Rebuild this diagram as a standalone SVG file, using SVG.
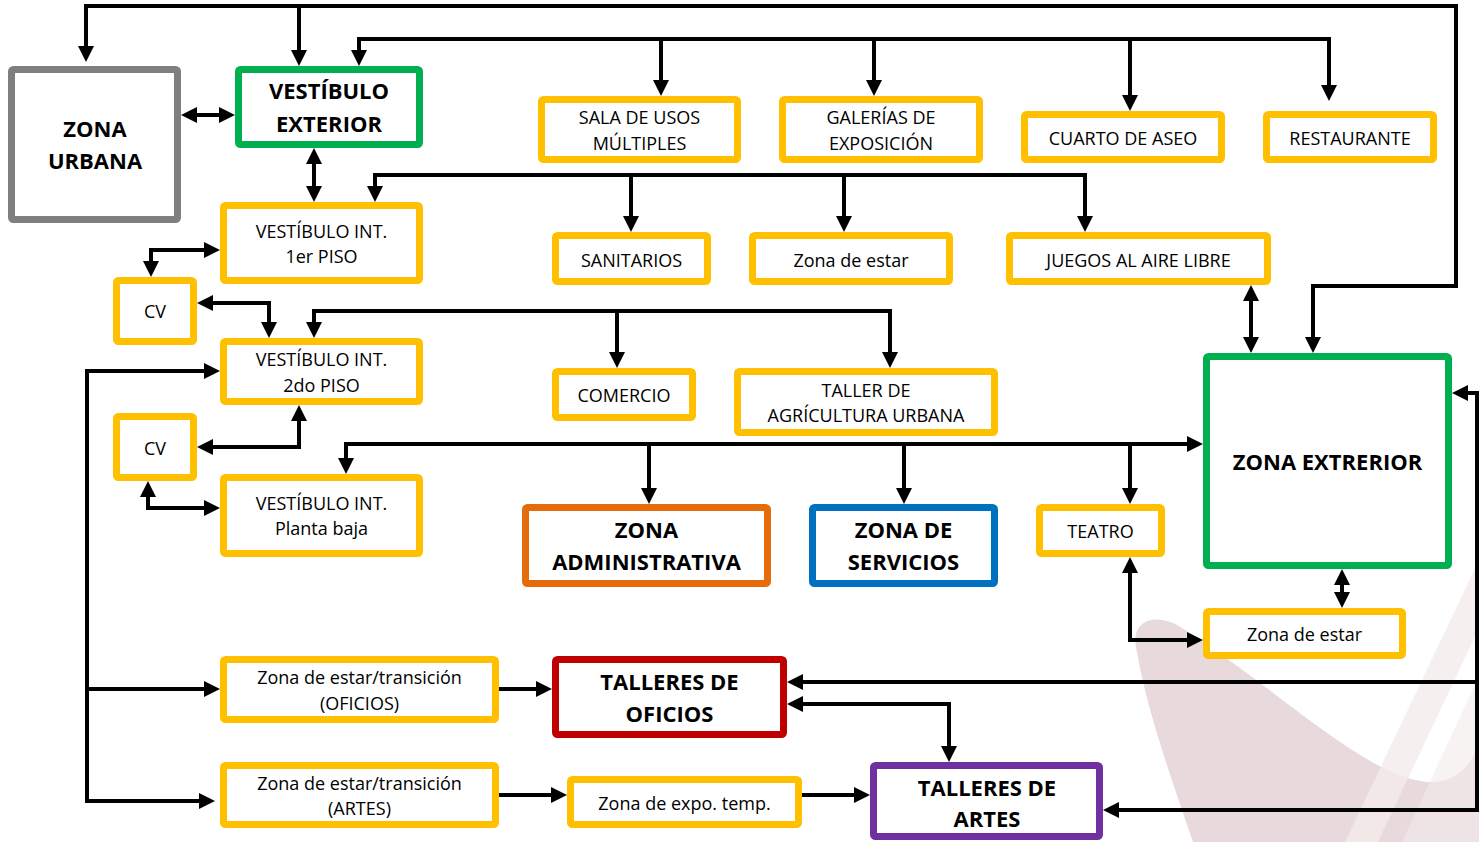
<svg xmlns="http://www.w3.org/2000/svg" width="1479" height="842" viewBox="0 0 1479 842">
  <defs>
    <marker id="arrow" viewBox="0 0 16 16" refX="12" refY="8" markerWidth="16" markerHeight="16" markerUnits="userSpaceOnUse" orient="auto-start-reverse">
      <path d="M0,0 L16,8 L0,16 z" fill="#000"/>
    </marker>
    <style>
      .box { fill: #fff; stroke-width: 7; }
      .y { stroke: #FFC000; }
      .g { stroke: #00B050; }
      .gr { stroke: #7F7F7F; }
      .o { stroke: #E46C0A; }
      .b { stroke: #0070C0; }
      .r { stroke: #C00000; }
      .p { stroke: #7030A0; }
      .t { font-family: "Open Sans", "Noto Sans", "Liberation Sans", sans-serif; font-size: 18px; fill: #000; text-anchor: middle; }
      .tb { font-family: "Open Sans", "Noto Sans", "Liberation Sans", sans-serif; font-size: 22px; font-weight: 700; fill: #000; text-anchor: middle; }
      .c path { fill: none; stroke: #000; stroke-width: 4; stroke-linejoin: miter; }
      .both { marker-start: url(#arrow); marker-end: url(#arrow); }
      .end { marker-end: url(#arrow); }
    </style>
  </defs>

  <rect width="1479" height="842" fill="#fff"/>

  <!-- background ornament, lower right -->
  <g id="ornament">
    <path d="M1137,652 C1128,618 1158,612 1182,628 C1280,690 1370,782 1432,782 C1462,782 1479,755 1479,735 L1479,842 L1193,842 C1168,770 1146,705 1137,652 Z" fill="#E8D9DC"/>
    <path d="M1345,842 L1479,560 L1479,628 L1378,842 Z" fill="#F4EBEB" opacity="0.8"/>
    <path d="M1402,842 L1479,676 L1479,842 Z" fill="#F4EBEB" opacity="0.6"/>
  </g>

  <!-- connectors -->
  <g id="connectors" class="c">
    <path class="both" d="M86,58 L86,6 L1456,6 L1456,286 L1313,286 L1313,349"/>
    <path class="end" d="M299,6 L299,62"/>
    <path class="both" d="M359,62 L359,39 L1329,39 L1329,97"/>
    <path class="end" d="M661,39 L661,92"/>
    <path class="end" d="M874,39 L874,92"/>
    <path class="end" d="M1130,39 L1130,107"/>
    <path class="both" d="M185,115 L231,115"/>
    <path class="both" d="M314,152 L314,198"/>
    <path class="both" d="M375,198 L375,175 L1085,175 L1085,228"/>
    <path class="end" d="M631,175 L631,228"/>
    <path class="end" d="M844,175 L844,228"/>
    <path class="both" d="M216,250 L151,250 L151,273"/>
    <path class="both" d="M201,303 L269,303 L269,334"/>
    <path class="both" d="M314,334 L314,311 L890,311 L890,364"/>
    <path class="end" d="M617,311 L617,364"/>
    <path class="both" d="M201,447 L299,447 L299,409"/>
    <path class="both" d="M148,485 L148,508 L216,508"/>
    <path class="both" d="M346,470 L346,444 L1199,444"/>
    <path class="end" d="M649,444 L649,500"/>
    <path class="end" d="M904,444 L904,500"/>
    <path class="end" d="M1130,444 L1130,500"/>
    <path class="both" d="M1251,289 L1251,349"/>
    <path class="both" d="M1342,573 L1342,604"/>
    <path class="both" d="M1130,561 L1130,640 L1199,640"/>
    <path class="both" d="M216,371 L87,371 L87,801 L211,801"/>
    <path class="end" d="M87,689 L216,689"/>
    <path class="end" d="M499,689 L548,689"/>
    <path class="end" d="M499,795 L563,795"/>
    <path class="end" d="M802,795 L866,795"/>
    <path class="both" d="M1456,393 L1477,393 L1477,810 L1107,810"/>
    <path class="end" d="M1477,682 L791,682"/>
    <path class="both" d="M791,704 L949,704 L949,758"/>
  </g>

  <!-- nodes -->
  <g id="zona-urbana">
    <rect class="box gr" x="11.5" y="69.5" width="166" height="150" rx="2"/>
    <text class="tb" x="95" y="137">ZONA</text>
    <text class="tb" x="95" y="169">URBANA</text>
  </g>
  <g id="vestibulo-exterior">
    <rect class="box g" x="238.5" y="69.5" width="181" height="75" rx="2"/>
    <text class="tb" x="329" y="99">VESTÍBULO</text>
    <text class="tb" x="329" y="132">EXTERIOR</text>
  </g>
  <g id="vestibulo-1er-piso">
    <rect class="box y" x="223.5" y="205.5" width="196" height="75" rx="2"/>
    <text class="t" x="321.5" y="238">VESTÍBULO INT.</text>
    <text class="t" x="321.5" y="263">1er PISO</text>
  </g>
  <g id="cv-1">
    <rect class="box y" x="116.5" y="280.5" width="77" height="61" rx="2"/>
    <text class="t" x="155" y="318">CV</text>
  </g>
  <g id="vestibulo-2do-piso">
    <rect class="box y" x="223.5" y="341.5" width="196" height="60" rx="2"/>
    <text class="t" x="321.5" y="366">VESTÍBULO INT.</text>
    <text class="t" x="321.5" y="392">2do PISO</text>
  </g>
  <g id="cv-2">
    <rect class="box y" x="116.5" y="416.5" width="77" height="61" rx="2"/>
    <text class="t" x="155" y="455">CV</text>
  </g>
  <g id="vestibulo-planta-baja">
    <rect class="box y" x="223.5" y="477.5" width="196" height="76" rx="2"/>
    <text class="t" x="321.5" y="510">VESTÍBULO INT.</text>
    <text class="t" x="321.5" y="535">Planta baja</text>
  </g>
  <g id="sala-usos-multiples">
    <rect class="box y" x="541.5" y="99.5" width="196" height="60" rx="2"/>
    <text class="t" x="639.5" y="124">SALA DE USOS</text>
    <text class="t" x="639.5" y="150">MÚLTIPLES</text>
  </g>
  <g id="galerias">
    <rect class="box y" x="782.5" y="99.5" width="197" height="60" rx="2"/>
    <text class="t" x="881" y="124">GALERÍAS DE</text>
    <text class="t" x="881" y="150">EXPOSICIÓN</text>
  </g>
  <g id="cuarto-aseo">
    <rect class="box y" x="1024.5" y="114.5" width="197" height="45" rx="2"/>
    <text class="t" x="1123" y="145">CUARTO DE ASEO</text>
  </g>
  <g id="restaurante">
    <rect class="box y" x="1266.5" y="114.5" width="167" height="45" rx="2"/>
    <text class="t" x="1350" y="145">RESTAURANTE</text>
  </g>
  <g id="sanitarios">
    <rect class="box y" x="555.5" y="235.5" width="152" height="46" rx="2"/>
    <text class="t" x="631.5" y="267">SANITARIOS</text>
  </g>
  <g id="zona-estar-1">
    <rect class="box y" x="752.5" y="235.5" width="197" height="46" rx="2"/>
    <text class="t" x="851" y="267">Zona de estar</text>
  </g>
  <g id="juegos">
    <rect class="box y" x="1009.5" y="235.5" width="258" height="46" rx="2"/>
    <text class="t" x="1138.5" y="267">JUEGOS AL AIRE LIBRE</text>
  </g>
  <g id="comercio">
    <rect class="box y" x="555.5" y="371.5" width="137" height="46" rx="2"/>
    <text class="t" x="624" y="402">COMERCIO</text>
  </g>
  <g id="taller-agricultura">
    <rect class="box y" x="737.5" y="371.5" width="257" height="61" rx="2"/>
    <text class="t" x="866" y="397">TALLER DE</text>
    <text class="t" x="866" y="422">AGRÍCULTURA URBANA</text>
  </g>
  <g id="zona-administrativa">
    <rect class="box o" x="525.5" y="507.5" width="242" height="76" rx="2"/>
    <text class="tb" x="646.5" y="538">ZONA</text>
    <text class="tb" x="646.5" y="570">ADMINISTRATIVA</text>
  </g>
  <g id="zona-servicios">
    <rect class="box b" x="812.5" y="507.5" width="182" height="76" rx="2"/>
    <text class="tb" x="903.5" y="538">ZONA DE</text>
    <text class="tb" x="903.5" y="570">SERVICIOS</text>
  </g>
  <g id="teatro">
    <rect class="box y" x="1039.5" y="507.5" width="122" height="46" rx="2"/>
    <text class="t" x="1100.5" y="538">TEATRO</text>
  </g>
  <g id="zona-exterior">
    <rect class="box g" x="1206.5" y="356.5" width="242" height="209" rx="2"/>
    <text class="tb" x="1327.5" y="470">ZONA EXTRERIOR</text>
  </g>
  <g id="zona-estar-2">
    <rect class="box y" x="1206.5" y="611.5" width="196" height="44" rx="2"/>
    <text class="t" x="1304.5" y="641">Zona de estar</text>
  </g>
  <g id="transicion-oficios">
    <rect class="box y" x="223.5" y="659.5" width="272" height="60" rx="2"/>
    <text class="t" x="359.5" y="684">Zona de estar/transición</text>
    <text class="t" x="359.5" y="710">(OFICIOS)</text>
  </g>
  <g id="transicion-artes">
    <rect class="box y" x="223.5" y="765.5" width="272" height="59" rx="2"/>
    <text class="t" x="359.5" y="790">Zona de estar/transición</text>
    <text class="t" x="359.5" y="815">(ARTES)</text>
  </g>
  <g id="talleres-oficios">
    <rect class="box r" x="555.5" y="659.5" width="228" height="75" rx="2"/>
    <text class="tb" x="669.5" y="690">TALLERES DE</text>
    <text class="tb" x="669.5" y="722">OFICIOS</text>
  </g>
  <g id="expo-temporal">
    <rect class="box y" x="570.5" y="779.5" width="228" height="45" rx="2"/>
    <text class="t" x="684.5" y="810">Zona de expo. temp.</text>
  </g>
  <g id="talleres-artes">
    <rect class="box p" x="873.5" y="765.5" width="226" height="71" rx="2"/>
    <text class="tb" x="987" y="796">TALLERES DE</text>
    <text class="tb" x="987" y="827">ARTES</text>
  </g>
</svg>
